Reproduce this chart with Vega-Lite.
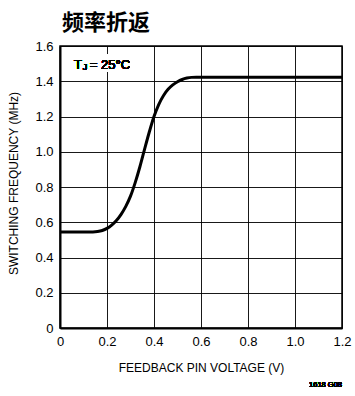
{
  "$schema": "https://vega.github.io/schema/vega-lite/v6.json",
  "width": 282,
  "height": 282,
  "autosize": {"type": "none"},
  "padding": {"left": 60, "top": 46, "right": 13, "bottom": 68},
  "background": "white",
  "title": {
    "text": "频率折返",
    "anchor": "start",
    "frame": "group",
    "font": "Noto Sans CJK SC",
    "fontSize": 22,
    "fontWeight": "bold",
    "color": "#000",
    "offset": 5,
    "dx": 2
  },
  "config": {
    "view": {"stroke": "#000", "strokeWidth": 1.5},
    "axis": {
      "labelFont": "Liberation Sans",
      "titleFont": "Liberation Sans",
      "labelFontSize": 13,
      "titleFontSize": 12,
      "titleFontWeight": "normal",
      "labelColor": "#000",
      "titleColor": "#000",
      "labelOverlap": false,
      "labelFlush": false,
      "labelPadding": 7,
      "labelExpr": "datum.value == 0 ? '0' : format(datum.value, '.1f')",
      "domainColor": "#000",
      "domainWidth": 2,
      "grid": true,
      "gridColor": "#000",
      "gridWidth": 1,
      "gridOpacity": 0.9,
      "ticks": false,
      "tickSize": 0
    }
  },
  "data": {
    "values": [
      {"v": 0, "f": 0.545},
      {"v": 0.07, "f": 0.545},
      {"v": 0.14, "f": 0.545},
      {"v": 0.16, "f": 0.547},
      {"v": 0.18, "f": 0.553},
      {"v": 0.2, "f": 0.565},
      {"v": 0.22, "f": 0.584},
      {"v": 0.24, "f": 0.61},
      {"v": 0.26, "f": 0.645},
      {"v": 0.28, "f": 0.69},
      {"v": 0.3, "f": 0.748},
      {"v": 0.32, "f": 0.825},
      {"v": 0.34, "f": 0.915},
      {"v": 0.36, "f": 1.015},
      {"v": 0.38, "f": 1.112},
      {"v": 0.4, "f": 1.2},
      {"v": 0.42, "f": 1.268},
      {"v": 0.44, "f": 1.318},
      {"v": 0.46, "f": 1.354},
      {"v": 0.48, "f": 1.379},
      {"v": 0.5, "f": 1.397},
      {"v": 0.52, "f": 1.41},
      {"v": 0.54, "f": 1.418},
      {"v": 0.56, "f": 1.422},
      {"v": 0.58, "f": 1.423},
      {"v": 1.2, "f": 1.423}
    ]
  },
  "layer": [
    {
      "mark": {"type": "line", "color": "#000", "strokeWidth": 3, "interpolate": "monotone"},
      "encoding": {
        "x": {
          "field": "v",
          "type": "quantitative",
          "title": "FEEDBACK PIN VOLTAGE (V)",
          "scale": {"domain": [0, 1.2], "nice": false, "zero": false},
          "axis": {"values": [0, 0.2, 0.4, 0.6, 0.8, 1.0, 1.2], "grid": true, "title": "FEEDBACK PIN VOLTAGE (V)", "titleX": 141, "titleY": 39, "titleBaseline": "middle", "titleAlign": "center"}
        },
        "y": {
          "field": "f",
          "type": "quantitative",
          "title": "SWITCHING FREQUENCY (MHz)",
          "scale": {"domain": [0, 1.6], "nice": false, "zero": false},
          "axis": {"values": [0, 0.2, 0.4, 0.6, 0.8, 1.0, 1.2, 1.4, 1.6], "grid": true, "title": "SWITCHING FREQUENCY (MHz)", "titleX": -47, "titleY": 137, "titleAngle": -90, "titleBaseline": "middle", "titleAlign": "center"}
        }
      }
    },
    {
      "mark": {"type": "rect", "color": "white"},
      "encoding": {
        "x": {"datum": 0.05, "type": "quantitative", "title": "FEEDBACK PIN VOLTAGE (V)", "axis": {"values": [0, 0.2, 0.4, 0.6, 0.8, 1.0, 1.2], "grid": true, "title": "FEEDBACK PIN VOLTAGE (V)", "titleX": 141, "titleY": 39, "titleBaseline": "middle", "titleAlign": "center"}},
        "x2": {"datum": 0.31},
        "y": {"datum": 1.455, "type": "quantitative", "title": "SWITCHING FREQUENCY (MHz)", "axis": {"values": [0, 0.2, 0.4, 0.6, 0.8, 1.0, 1.2, 1.4, 1.6], "grid": true, "title": "SWITCHING FREQUENCY (MHz)", "titleX": -47, "titleY": 137, "titleAngle": -90, "titleBaseline": "middle", "titleAlign": "center"}},
        "y2": {"datum": 1.55}
      }
    },
    {
      "mark": {"type": "text", "text": "T", "align": "left", "baseline": "alphabetic", "font": "Liberation Sans", "fontSize": 13, "fontWeight": "normal", "color": "#000"},
      "encoding": {
        "x": {"datum": 0.06, "type": "quantitative", "title": "FEEDBACK PIN VOLTAGE (V)", "axis": {"values": [0, 0.2, 0.4, 0.6, 0.8, 1.0, 1.2], "grid": true, "title": "FEEDBACK PIN VOLTAGE (V)", "titleX": 141, "titleY": 39, "titleBaseline": "middle", "titleAlign": "center"}},
        "y": {"datum": 1.47, "type": "quantitative", "title": "SWITCHING FREQUENCY (MHz)", "axis": {"values": [0, 0.2, 0.4, 0.6, 0.8, 1.0, 1.2, 1.4, 1.6], "grid": true, "title": "SWITCHING FREQUENCY (MHz)", "titleX": -47, "titleY": 137, "titleAngle": -90, "titleBaseline": "middle", "titleAlign": "center"}}
      }
    },
    {
      "mark": {"type": "text", "text": "J", "align": "left", "baseline": "alphabetic", "font": "Liberation Sans", "fontSize": 9, "fontWeight": "normal", "color": "#000"},
      "encoding": {
        "x": {"datum": 0.097, "type": "quantitative", "title": "FEEDBACK PIN VOLTAGE (V)", "axis": {"values": [0, 0.2, 0.4, 0.6, 0.8, 1.0, 1.2], "grid": true, "title": "FEEDBACK PIN VOLTAGE (V)", "titleX": 141, "titleY": 39, "titleBaseline": "middle", "titleAlign": "center"}},
        "y": {"datum": 1.462, "type": "quantitative", "title": "SWITCHING FREQUENCY (MHz)", "axis": {"values": [0, 0.2, 0.4, 0.6, 0.8, 1.0, 1.2, 1.4, 1.6], "grid": true, "title": "SWITCHING FREQUENCY (MHz)", "titleX": -47, "titleY": 137, "titleAngle": -90, "titleBaseline": "middle", "titleAlign": "center"}}
      }
    },
    {
      "mark": {"type": "text", "text": "= 25°C", "align": "left", "baseline": "alphabetic", "font": "Liberation Sans", "fontSize": 13, "fontWeight": "normal", "color": "#000"},
      "encoding": {
        "x": {"datum": 0.127, "type": "quantitative", "title": "FEEDBACK PIN VOLTAGE (V)", "axis": {"values": [0, 0.2, 0.4, 0.6, 0.8, 1.0, 1.2], "grid": true, "title": "FEEDBACK PIN VOLTAGE (V)", "titleX": 141, "titleY": 39, "titleBaseline": "middle", "titleAlign": "center"}},
        "y": {"datum": 1.47, "type": "quantitative", "title": "SWITCHING FREQUENCY (MHz)", "axis": {"values": [0, 0.2, 0.4, 0.6, 0.8, 1.0, 1.2, 1.4, 1.6], "grid": true, "title": "SWITCHING FREQUENCY (MHz)", "titleX": -47, "titleY": 137, "titleAngle": -90, "titleBaseline": "middle", "titleAlign": "center"}}
      }
    },
    {
      "mark": {"type": "text", "text": "1618 G08", "align": "right", "baseline": "alphabetic", "font": "Liberation Sans", "fontSize": 7.5, "fontWeight": "normal", "color": "#000"},
      "encoding": {
        "x": {"datum": 1.2, "type": "quantitative", "title": "FEEDBACK PIN VOLTAGE (V)", "axis": {"values": [0, 0.2, 0.4, 0.6, 0.8, 1.0, 1.2], "grid": true, "title": "FEEDBACK PIN VOLTAGE (V)", "titleX": 141, "titleY": 39, "titleBaseline": "middle", "titleAlign": "center"}},
        "y": {"datum": -0.335, "type": "quantitative", "title": "SWITCHING FREQUENCY (MHz)", "axis": {"values": [0, 0.2, 0.4, 0.6, 0.8, 1.0, 1.2, 1.4, 1.6], "grid": true, "title": "SWITCHING FREQUENCY (MHz)", "titleX": -47, "titleY": 137, "titleAngle": -90, "titleBaseline": "middle", "titleAlign": "center"}}
      }
    }
  ]
}
